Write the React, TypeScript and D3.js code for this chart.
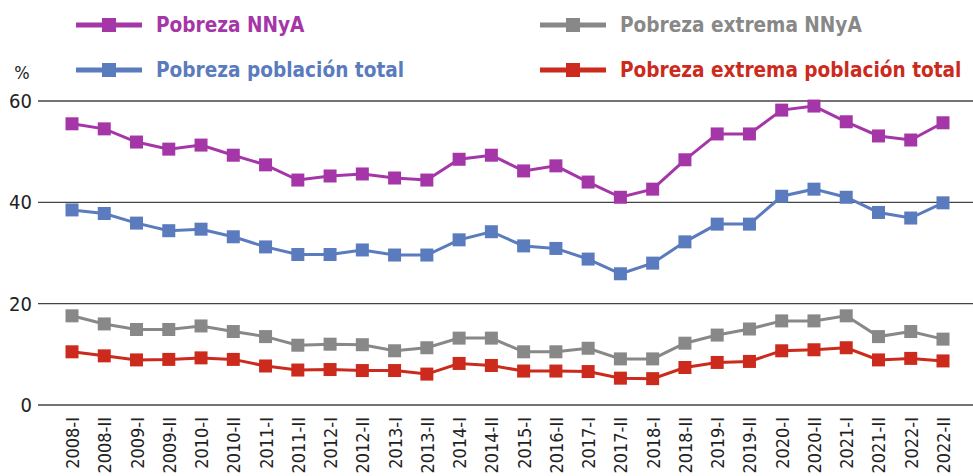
import React from "react";
import * as d3 from "d3";

const categories = ["2008-I","2008-II","2009-I","2009-II","2010-I","2010-II","2011-I","2011-II","2012-I","2012-II","2013-I","2013-II","2014-I","2014-II","2015-I","2016-II","2017-I","2017-II","2018-I","2018-II","2019-I","2019-II","2020-I","2020-II","2021-I","2021-II","2022-I","2022-II"];

const pobrezaNNyA = [55.5,54.5,51.9,50.5,51.3,49.3,47.4,44.4,45.2,45.6,44.8,44.4,48.5,49.3,46.2,47.2,44.0,41.0,42.6,48.4,53.5,53.5,58.2,59.0,55.9,53.1,52.3,55.7];
const pobrezaTotal = [38.5,37.8,35.9,34.4,34.7,33.2,31.2,29.7,29.7,30.6,29.6,29.6,32.6,34.2,31.4,30.9,28.8,25.9,28.0,32.2,35.7,35.7,41.2,42.6,41.0,38.0,36.9,39.9];
const extremaNNyA = [17.6,16.0,14.9,14.9,15.6,14.5,13.5,11.8,12.0,11.9,10.7,11.3,13.2,13.2,10.5,10.5,11.2,9.1,9.1,12.2,13.8,15.0,16.6,16.6,17.6,13.5,14.5,13.0];
const extremaTotal = [10.5,9.7,8.9,9.0,9.3,9.0,7.7,6.9,7.0,6.8,6.8,6.1,8.2,7.8,6.7,6.7,6.6,5.3,5.2,7.4,8.4,8.6,10.7,10.9,11.3,8.9,9.2,8.7];

const yTicks = [0, 20, 40, 60];

const series = [
  { name: "Pobreza NNyA", values: pobrezaNNyA, color: "#a536a8" },
  { name: "Pobreza extrema NNyA", values: extremaNNyA, color: "#888888" },
  { name: "Pobreza población total", values: pobrezaTotal, color: "#5a7bbd" },
  { name: "Pobreza extrema población total", values: extremaTotal, color: "#cc2a1c" },
];

const legendPos = [
  { x: 76, y: 25 },
  { x: 540, y: 25 },
  { x: 76, y: 70 },
  { x: 540, y: 70 },
];

const W = 973, H = 476;
const FONT = "'DejaVu Sans Condensed', 'DejaVu Sans', sans-serif";

export default function App() {
  const x = d3.scalePoint<string>().domain(categories).range([72, 943]);
  const y = d3.scaleLinear().domain([0, 60]).range([405, 101]);
  const line = d3.line<number>().x((_, i) => x(categories[i])!).y(d => y(d));
  const ms = 13;

  return (
    <svg width={W} height={H} style={{ position: "absolute", left: 0, top: 0, background: "#fff" }} fontFamily={FONT}>
      {yTicks.map(t => (
        <g key={t}>
          <line x1={38} x2={W} y1={y(t)} y2={y(t)} stroke="#444" strokeWidth={1.3} />
          <text x={32} y={y(t)} dy="0.35em" textAnchor="end" fontSize={20} fill="#222">{t}</text>
        </g>
      ))}
      <text x={22} y={73} dy="0.35em" textAnchor="middle" fontSize={18} fill="#222">%</text>
      {categories.map(c => (
        <text key={c} transform={`translate(${x(c)! + 7},417) rotate(-90)`} textAnchor="end" fontSize={18} fill="#222">{c}</text>
      ))}
      {series.map(s => (
        <g key={s.name}>
          <path d={line(s.values)!} fill="none" stroke={s.color} strokeWidth={3} />
          {s.values.map((v, i) => (
            <rect key={i} x={x(categories[i])! - ms / 2} y={y(v) - ms / 2} width={ms} height={ms} fill={s.color} />
          ))}
        </g>
      ))}
      {series.map((s, i) => {
        const p = legendPos[i];
        return (
          <g key={s.name}>
            <line x1={p.x} x2={p.x + 66} y1={p.y} y2={p.y} stroke={s.color} strokeWidth={5} />
            <rect x={p.x + 33 - 7} y={p.y - 7} width={14} height={14} fill={s.color} />
            <text x={p.x + 80} y={p.y} dy="0.35em" fontSize={20.6} fontWeight="bold" fill={s.color}>{s.name}</text>
          </g>
        );
      })}
    </svg>
  );
}
